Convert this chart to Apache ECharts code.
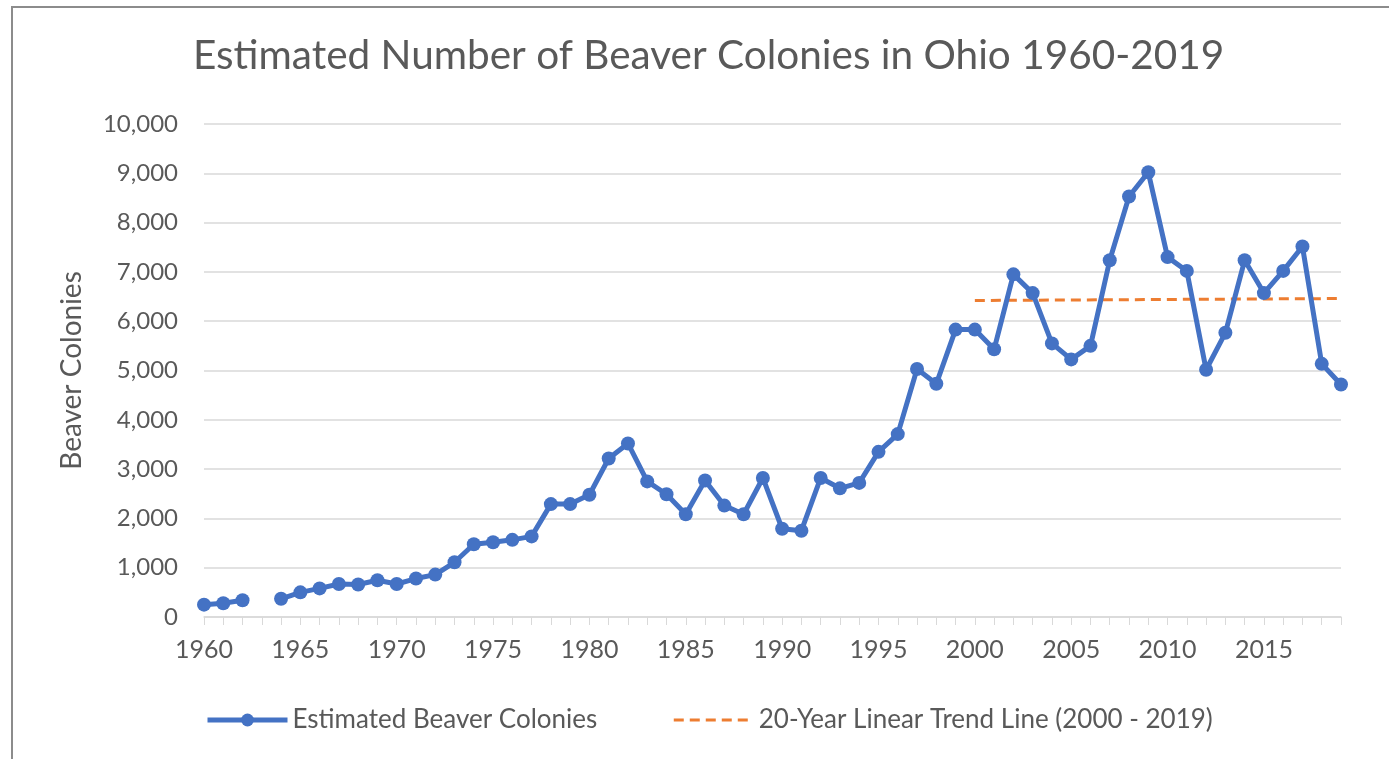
<!DOCTYPE html>
<html>
<head>
<meta charset="utf-8">
<script src="https://cdn.jsdelivr.net/npm/echarts@6/dist/echarts.min.js"></script>
<style>
  html, body { margin: 0; padding: 0; background: #fff; }
  #frame { position: absolute; left: 11px; top: 6px; width: 1390px; height: 760px; border: 2px solid #8c8c8c; box-sizing: border-box; }
  #myecharts { position: absolute; left: 0; top: 0; width: 1389px; height: 759px; }
</style>
</head>
<body>
<div id="frame"></div>
<div id="myecharts"></div>
<script>
// chart data
var years = []
for (var y = 1960; y <= 2019; y++) years.push(String(y))

var colonies = [
  250, 280, 340, null, 370, 500, 580, 670, 660, 745,
  670, 780, 860, 1110, 1475, 1515, 1565, 1635, 2290, 2290,
  2480, 3215, 3520, 2750, 2490, 2085, 2770, 2260, 2085, 2820,
  1790, 1750, 2820, 2610, 2720, 3350, 3710, 5030, 4730, 5830,
  5830, 5430, 6950, 6570, 5550, 5225, 5500, 7235, 8530, 9020,
  7300, 7020, 5015, 5765, 7235, 6570, 7020, 7515, 5135, 4715
]

// trend line end points (2000 and 2019)
var trendStart = 6420
var trendEnd = 6460

var trend = years.map(function (yr) {
  if (yr === '2000') return trendStart
  if (yr === '2019') return trendEnd
  return null
})

var yTicks = [0, 1000, 2000, 3000, 4000, 5000, 6000, 7000, 8000, 9000, 10000]

var grey = '#595959'
var font = 'Lato'

var myChart = echarts.init(document.getElementById('myecharts'))
var option = {
  backgroundColor: 'transparent',
  animation: false,
  title: {
    text: 'Estimated Number of Beaver Colonies in Ohio 1960-2019',
    left: 188,
    top: 30,
    textStyle: { color: grey, fontFamily: font, fontWeight: 'normal', fontSize: 40.5 }
  },
  legend: {
    left: 200,
    top: 702,
    itemWidth: 80,
    itemHeight: 16,
    itemGap: 75,
    textStyle: { color: grey, fontFamily: font, fontSize: 26 },
    data: [
      { name: 'Estimated Beaver Colonies', lineStyle: { width: 5 } },
      { name: '20-Year Linear Trend Line (2000 - 2019)', itemStyle: { opacity: 0 }, lineStyle: { width: 3 } }
    ]
  },
  grid: { left: 204, right: 48, top: 124, bottom: 142 },
  xAxis: {
    type: 'category',
    boundaryGap: false,
    data: years,
    axisLine: { lineStyle: { color: '#d9d9d9', width: 1.5 } },
    axisTick: { show: true, interval: 0, length: 8, lineStyle: { color: '#d9d9d9' } },
    axisLabel: { interval: 4, color: grey, fontFamily: font, fontSize: 25, margin: 20 },
    splitLine: { show: false }
  },
  yAxis: {
    type: 'value',
    min: yTicks[0],
    max: yTicks[yTicks.length - 1],
    interval: 1000,
    name: 'Beaver Colonies',
    nameLocation: 'middle',
    nameGap: 118,
    nameTextStyle: { color: grey, fontFamily: font, fontSize: 28 },
    axisLine: { show: false },
    axisTick: { show: false },
    axisLabel: {
      color: grey, fontFamily: font, fontSize: 24, margin: 26,
      formatter: function (v) { return v.toLocaleString('en-US') }
    },
    splitLine: { lineStyle: { color: '#d9d9d9', width: 1.5 } }
  },
  series: [
    {
      name: 'Estimated Beaver Colonies',
      type: 'line',
      data: colonies,
      connectNulls: false,
      showAllSymbol: true,
      symbol: 'circle',
      symbolSize: 14,
      itemStyle: { color: '#4472C4' },
      lineStyle: { color: '#4472C4', width: 5 },
      z: 3
    },
    {
      name: '20-Year Linear Trend Line (2000 - 2019)',
      type: 'line',
      data: trend,
      connectNulls: true,
      symbol: 'none',
      itemStyle: { color: '#ED7D31' },
      lineStyle: { color: '#ED7D31', width: 3, type: [10, 6] },
      z: 2
    }
  ]
}
myChart.setOption(option)
</script>
</body>
</html>
